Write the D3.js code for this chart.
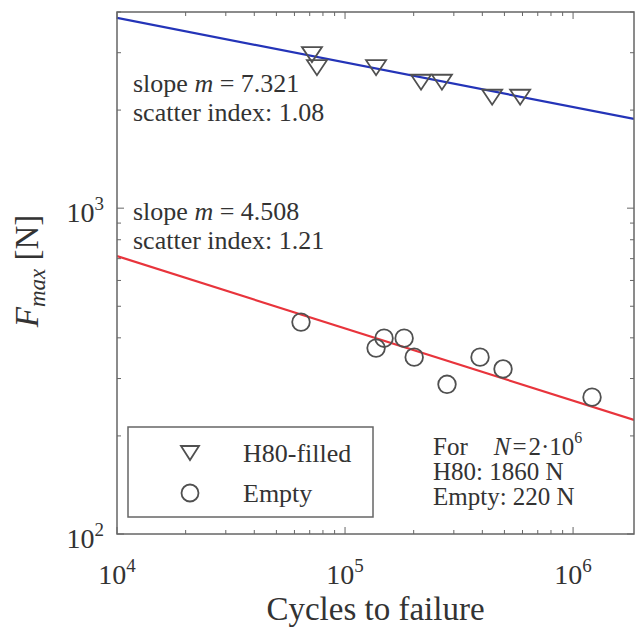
<!DOCTYPE html>
<html><head><meta charset="utf-8">
<script src="https://cdn.jsdelivr.net/npm/d3@7"></script>
<style>body{margin:0;background:#fff}svg text{font-family:"Liberation Serif","Times New Roman",serif;fill:#333}</style>
</head><body><svg id="c" width="635" height="630"></svg>
<script>
// ---- data ----
const xDomain = [1e4, 1.85e6];
const yDomain = [100, 4000];
const xMajorExp = [4, 5, 6];
const yMajorExp = [2, 3];
const h80N = [71600, 75300, 136800, 215400, 266000, 441700, 586000];
const h80F = [2960, 2698, 2698, 2435, 2435, 2190, 2190];
const emptyN = [64100, 136800, 148300, 181600, 201000, 280000, 390800, 493000, 1211000];
const emptyF = [447, 372, 399, 399, 349, 288, 349, 321, 263];
const fitRefN = 2e6;
const fitRefF = [1860, 220];   // H80, Empty at N = 2e6
const fitSlope = [7.321, 4.508];
const fitScatter = ["1.08", "1.21"];
const legendLabels = ["H80-filled", "Empty"];

// ---- layout ----
const L = 117, R = 634, T = 12, B = 534;
const svg = d3.select("#c");
const x = d3.scaleLog().domain(xDomain).range([L, R]);
const y = d3.scaleLog().domain(yDomain).range([B, T]);
const axisCol = "#666";

svg.append("defs").append("clipPath").attr("id", "clip")
  .append("rect").attr("x", L).attr("y", T).attr("width", R - L).attr("height", B - T);

// ticks (inward)
const xt = x.ticks().filter(v => v >= xDomain[0] && v <= xDomain[1]);
const yt = y.ticks().filter(v => v >= yDomain[0] && v <= yDomain[1]);
const isMajor = v => Math.abs(Math.log10(v) - Math.round(Math.log10(v))) < 1e-9;
const tk = svg.append("g").attr("stroke", axisCol).attr("stroke-width", 1);
xt.forEach(v => {
  const len = isMajor(v) ? 7 : 4;
  tk.append("line").attr("x1", x(v)).attr("x2", x(v)).attr("y1", B).attr("y2", B - len);
  tk.append("line").attr("x1", x(v)).attr("x2", x(v)).attr("y1", T).attr("y2", T + len);
});
yt.forEach(v => {
  const len = isMajor(v) ? 7 : 4;
  tk.append("line").attr("y1", y(v)).attr("y2", y(v)).attr("x1", L).attr("x2", L + len);
  tk.append("line").attr("y1", y(v)).attr("y2", y(v)).attr("x1", R).attr("x2", R - len);
});

// fit lines
const lineCols = ["#2434b8", "#e8343c"];
const lg = svg.append("g").attr("clip-path", "url(#clip)");
fitRefF.forEach((F0, i) => {
  const f = n => F0 * Math.pow(n / fitRefN, -1 / fitSlope[i]);
  const pts = [xDomain[0], xDomain[1]].map(n => [x(n), y(f(n))]);
  lg.append("path").attr("d", d3.line()(pts)).attr("fill", "none")
    .attr("stroke", lineCols[i]).attr("stroke-width", 2.2);
});

// markers
const mCol = "#505050";
const tri = (cx, cy, w, h) => `M${cx - w/2},${cy - h/2}L${cx + w/2},${cy - h/2}L${cx},${cy + h/2}Z`;
const mg = svg.append("g");
h80N.forEach((n, i) => {
  mg.append("path").attr("d", tri(x(n), y(h80F[i]), 20, 15))
    .attr("fill", "none").attr("stroke", mCol).attr("stroke-width", 1.8);
});
emptyN.forEach((n, i) => {
  mg.append("circle").attr("cx", x(n)).attr("cy", y(emptyF[i])).attr("r", 8.8)
    .attr("fill", "none").attr("stroke", mCol).attr("stroke-width", 1.8);
});

// axes box
svg.append("rect").attr("x", L).attr("y", T).attr("width", R - L).attr("height", B - T)
  .attr("fill", "none").attr("stroke", axisCol).attr("stroke-width", 1.5);

// tick labels
xMajorExp.forEach(e => {
  const t = svg.append("text").attr("x", x(Math.pow(10, e))).attr("y", 584)
    .attr("text-anchor", "middle").attr("font-size", 28);
  t.append("tspan").text("10");
  t.append("tspan").attr("font-size", 19).attr("dy", -12).text(e);
});
yMajorExp.forEach(e => {
  const t = svg.append("text").attr("x", 104).attr("y", y(Math.pow(10, e)) + 14)
    .attr("text-anchor", "end").attr("font-size", 28);
  t.append("tspan").text("10");
  t.append("tspan").attr("font-size", 19).attr("dy", -12).text(e);
});

// axis titles
svg.append("text").attr("x", (L + R) / 2).attr("y", 620).attr("text-anchor", "middle")
  .attr("font-size", 33).text("Cycles to failure");
const yl = svg.append("text").attr("transform", "translate(38,271) rotate(-90)")
  .attr("text-anchor", "middle").attr("font-size", 33);
yl.append("tspan").attr("font-style", "italic").text("F");
yl.append("tspan").attr("font-style", "italic").attr("font-size", 23).attr("dy", 7).text("max");
yl.append("tspan").attr("dy", -7).text(" [N]");

// slope annotations
const annY = [[92, 121], [220, 249]];
fitSlope.forEach((m, i) => {
  const t1 = svg.append("text").attr("x", 133).attr("y", annY[i][0]).attr("font-size", 26);
  t1.append("tspan").text("slope ");
  t1.append("tspan").attr("font-style", "italic").text("m");
  t1.append("tspan").text(" = " + m.toFixed(3));
  svg.append("text").attr("x", 133).attr("y", annY[i][1]).attr("font-size", 26)
    .text("scatter index: " + fitScatter[i]);
});

// legend
svg.append("rect").attr("x", 128).attr("y", 427).attr("width", 245).attr("height", 90)
  .attr("fill", "#fff").attr("stroke", axisCol).attr("stroke-width", 1.5);
svg.append("path").attr("d", tri(190, 453, 18, 14)).attr("fill", "none")
  .attr("stroke", mCol).attr("stroke-width", 1.8);
svg.append("circle").attr("cx", 190).attr("cy", 493).attr("r", 8.5).attr("fill", "none")
  .attr("stroke", mCol).attr("stroke-width", 1.8);
legendLabels.forEach((s, i) => {
  svg.append("text").attr("x", 243).attr("y", 462 + i * 40).attr("font-size", 26).text(s);
});

// N = 2e6 annotation
const a1 = svg.append("text").attr("x", 433).attr("y", 455).attr("font-size", 25);
a1.append("tspan").text("For");
a1.append("tspan").attr("dx", 26).attr("font-style", "italic").text("N");
a1.append("tspan").attr("dx", 2).text("=");
a1.append("tspan").attr("dx", 2).text("2\u00b710");
a1.append("tspan").attr("font-size", 16).attr("dy", -12).text("6");
svg.append("text").attr("x", 433).attr("y", 480).attr("font-size", 25)
  .text("H80: " + fitRefF[0] + " N");
svg.append("text").attr("x", 433).attr("y", 505).attr("font-size", 25)
  .text("Empty: " + fitRefF[1] + " N");
</script></body></html>
